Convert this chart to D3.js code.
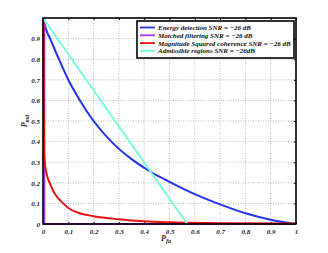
<!DOCTYPE html>
<html>
<head>
  <script src="https://cdn.jsdelivr.net/npm/d3@7"></script>
  <style>
    body { margin: 0; background: white; }
    svg { display: block; }
    text { font-family: 'Liberation Serif', 'DejaVu Serif', serif; font-style: italic; font-weight: bold; }
  </style>
</head>
<body>
  <script>
    // curves: [pfa, pmd]
    const energy = [[0, 1], [0.012, 0.945], [0.028, 0.9], [0.063, 0.8], [0.1, 0.7], [0.146, 0.6], [0.2, 0.5],
      [0.27, 0.4], [0.35, 0.315], [0.43, 0.25], [0.5, 0.205], [0.6, 0.145], [0.7, 0.095], [0.8, 0.052],
      [0.9, 0.021], [1, 0]]
    const matched = [[0.005, 1], [0.005, 0], [1, 0]]
    const msc = [[0.002, 1], [0.003, 0.6], [0.005, 0.34], [0.009, 0.28], [0.016, 0.235], [0.028, 0.195],
      [0.045, 0.15], [0.065, 0.118], [0.08, 0.1], [0.1, 0.078], [0.146, 0.052], [0.2, 0.038], [0.3, 0.023],
      [0.4, 0.013], [0.5, 0.008], [0.7, 0.004], [1, 0.002]]
    const admissible = [[0, 1], [0.57, 0]]

    const seriesNames = ['Energy detection SNR = \u221226 dB', 'Matched filtering SNR = \u221226 dB',
      'Magnitude Squared coherence SNR = \u221226 dB', 'Admissible regions SNR = \u221226dB']
    const seriesColors = ['#2233ee', '#aa33ee', '#ee1111', '#77ffdd']
    const xTicks = [0, 0.1, 0.2, 0.3, 0.4, 0.5, 0.6, 0.7, 0.8, 0.9, 1]
    const yTicks = [0, 0.1, 0.2, 0.3, 0.4, 0.5, 0.6, 0.7, 0.8, 0.9]

    const W = 328, H = 253
    const m = {left: 43, top: 18, right: 296, bottom: 224}

    const svg = d3.select('body').append('svg').attr('width', W).attr('height', H)

    const x = d3.scaleLinear().domain([0, 1]).range([m.left, m.right])
    const y = d3.scaleLinear().domain([0, 1]).range([m.bottom, m.top])

    // dotted grid
    const grid = svg.append('g').attr('stroke', '#aaa').attr('stroke-width', 0.8).attr('stroke-dasharray', '1,1.5')
    xTicks.slice(1, -1).forEach(t => grid.append('line')
      .attr('x1', x(t)).attr('x2', x(t)).attr('y1', m.top).attr('y2', m.bottom))
    yTicks.slice(1).forEach(t => grid.append('line')
      .attr('x1', m.left).attr('x2', m.right).attr('y1', y(t)).attr('y2', y(t)))

    // axes
    const fmt = d => d === 0 ? '0' : d === 1 ? '1' : d3.format('.1f')(d)
    svg.append('g').attr('transform', `translate(0,${m.bottom})`)
      .call(d3.axisBottom(x).tickValues(xTicks).tickFormat(fmt).tickSizeInner(-2).tickSizeOuter(0).tickPadding(5))
    svg.append('g').attr('transform', `translate(${m.left},0)`)
      .call(d3.axisLeft(y).tickValues(yTicks).tickFormat(fmt).tickSizeInner(-2).tickSizeOuter(0).tickPadding(3))
    svg.append('g').attr('transform', `translate(0,${m.top})`)
      .call(d3.axisTop(x).tickValues(xTicks).tickFormat('').tickSizeInner(-2).tickSizeOuter(0))
    svg.append('g').attr('transform', `translate(${m.right},0)`)
      .call(d3.axisRight(y).tickValues(yTicks).tickFormat('').tickSizeInner(-2).tickSizeOuter(0))
    svg.selectAll('.domain').remove()
    svg.selectAll('.tick line').attr('stroke', '#000').attr('stroke-width', 1)
    svg.selectAll('.tick text').attr('font-size', 7).attr('fill', '#222')
      .style('font-family', "'Liberation Serif', serif").style('font-style', 'italic').style('font-weight', 'bold')

    // curves
    const smooth = d3.line().x(d => x(d[0])).y(d => y(d[1])).curve(d3.curveMonotoneX)
    const straight = d3.line().x(d => x(d[0])).y(d => y(d[1]))
    const curveData = [energy, matched, msc, admissible]
    curveData.forEach((c, i) => {
      svg.append('path')
        .attr('d', (i === 1 || i === 3) ? straight(c) : smooth(c))
        .attr('fill', 'none')
        .attr('stroke', seriesColors[i])
        .attr('stroke-width', 2)
    })

    // frame
    svg.append('rect').attr('x', m.left).attr('y', m.top)
      .attr('width', m.right - m.left).attr('height', m.bottom - m.top)
      .attr('fill', 'none').attr('stroke', '#000').attr('stroke-width', 1.6)

    // legend
    const lg = svg.append('g')
    lg.append('rect').attr('x', 137).attr('y', 21).attr('width', 157).attr('height', 37)
      .attr('fill', 'white').attr('stroke', '#000').attr('stroke-width', 1.6)
    seriesNames.forEach((name, i) => {
      const ly = 27.5 + i * 7.8
      lg.append('line').attr('x1', 140).attr('x2', 155).attr('y1', ly).attr('y2', ly)
        .attr('stroke', seriesColors[i]).attr('stroke-width', 1.8)
      lg.append('text').attr('x', 158).attr('y', ly).attr('dy', '0.35em')
        .attr('font-size', 7).attr('fill', '#111').text(name)
    })

    // axis labels
    const yl = svg.append('text').attr('transform', 'translate(27,121) rotate(-90)')
      .attr('text-anchor', 'middle').attr('font-size', 8).attr('fill', '#222')
    yl.append('tspan').text('P')
    yl.append('tspan').attr('font-size', 6).attr('dy', 2).text('md')
    const xl = svg.append('text').attr('x', 166).attr('y', 241)
      .attr('text-anchor', 'middle').attr('font-size', 8).attr('fill', '#222')
    xl.append('tspan').text('P')
    xl.append('tspan').attr('font-size', 6).attr('dy', 2).text('fa')
  </script>
</body>
</html>
